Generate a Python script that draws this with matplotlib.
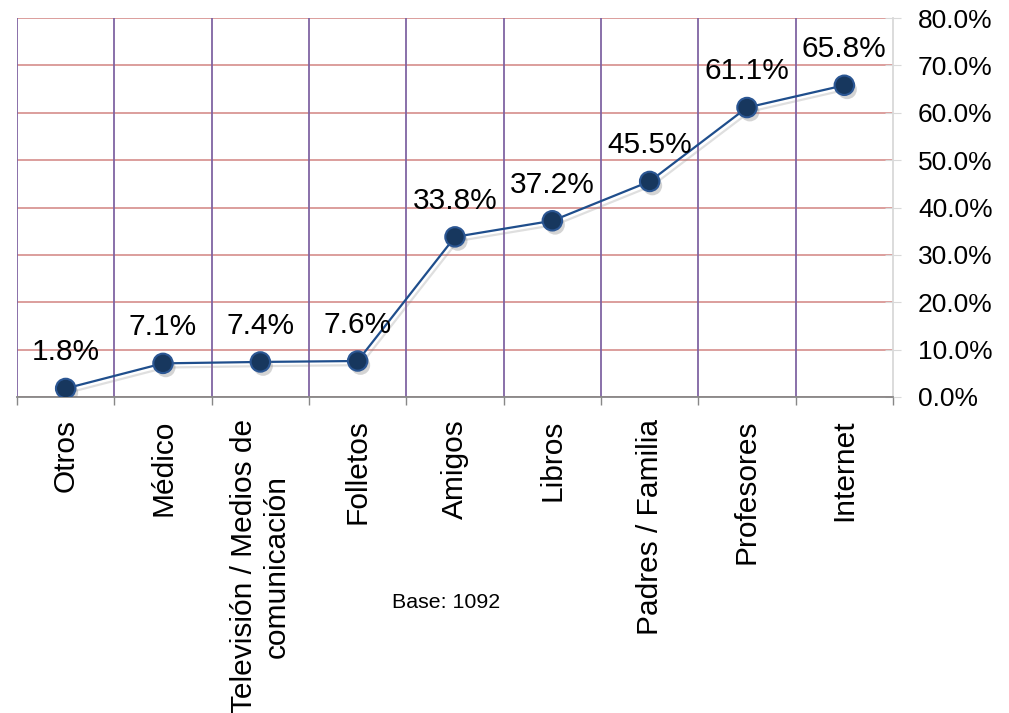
import matplotlib
matplotlib.use("Agg")
import matplotlib.pyplot as plt
import matplotlib.patheffects as pe
from matplotlib.ticker import FixedLocator, PercentFormatter

plt.rcParams['font.family'] = ['Liberation Sans', 'DejaVu Sans']

# data
categories = ["Otros", "Médico", "Televisión / Medios de\ncomunicación", "Folletos",
              "Amigos", "Libros", "Padres / Familia", "Profesores", "Internet"]
values = [0.018, 0.071, 0.074, 0.076, 0.338, 0.372, 0.455, 0.611, 0.658]
base_note = "Base: 1092"

fig = plt.figure(figsize=(10.09, 7.13), dpi=100)
ax = fig.add_axes([17 / 1009, 1 - 397 / 713, (893 - 17) / 1009, (397 - 18) / 713])

x = list(range(len(categories)))
# line and markers drawn separately so each gets its own soft shadow
ax.plot(x, values, color='#1F4E8C', lw=1.6, zorder=4,
        path_effects=[pe.SimpleLineShadow(offset=(2, -3), shadow_color='0.5', alpha=0.25),
                      pe.Normal()])
ax.plot(x, values, ls='none', marker='o', ms=14, mfc='#17375E', mec='#2B5693', mew=1.5,
        zorder=5,
        path_effects=[pe.SimplePatchShadow(offset=(2, -3), shadow_rgbFace='0.45', alpha=0.3),
                      pe.Normal()])

for xi, v in zip(x, values):
    ax.annotate(f"{v * 100:.1f}%", (xi, v), xytext=(0, 26), textcoords='offset points',
                ha='center', va='center', fontsize=21.5, color='black', zorder=6)

ax.set_xlim(-0.5, len(categories) - 0.5)
ax.set_ylim(0, 0.8)

# category boundaries: purple vertical gridlines + tick marks
ax.xaxis.set_minor_locator(FixedLocator([i - 0.5 for i in range(len(categories) + 1)]))
ax.set_xticks(x)
ax.set_xticklabels(categories, rotation=90, fontsize=21.5, va='top', ha='center',
                   multialignment='center')
ax.tick_params(axis='x', which='major', length=0, pad=16)
ax.tick_params(axis='x', which='minor', length=6, color='#878787', width=1)
for b in [i - 0.5 for i in range(len(categories))]:
    ax.axvline(b, color='#8064A2', lw=1.3, zorder=1)

# y axis on the right
ax.yaxis.tick_right()
ax.set_yticks([i / 10 for i in range(9)])
ax.yaxis.set_major_formatter(PercentFormatter(1.0, decimals=1))
ax.tick_params(axis='y', which='major', direction='inout', length=12, color='#D9D9D9',
               labelsize=19, pad=12)
ax.grid(axis='y', color='#D99694', lw=1.3, zorder=0)
ax.set_axisbelow(True)

for s in ['left', 'top']:
    ax.spines[s].set_visible(False)
ax.spines['right'].set_color('#D9D9D9')
ax.spines['right'].set_linewidth(1.3)
ax.spines['bottom'].set_color('#878787')
ax.spines['bottom'].set_linewidth(1.3)

fig.text(446 / 1009, 1 - 603 / 713, base_note, ha='center', va='center', fontsize=15.4)

fig.savefig("out.png", dpi=100)
